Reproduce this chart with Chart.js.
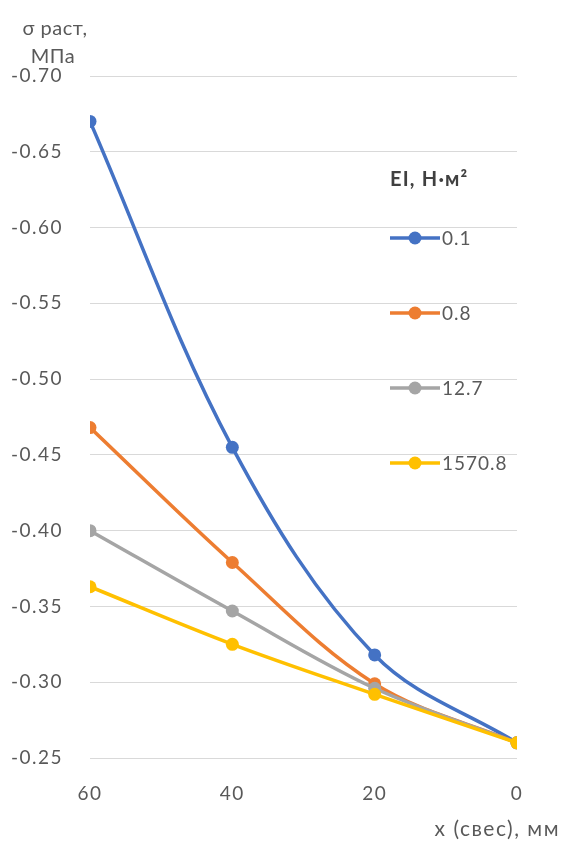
<!DOCTYPE html>
<html>
<head>
<meta charset="utf-8">
<script src="https://cdn.jsdelivr.net/npm/chart.js@4"></script>
<style>
  html, body { margin: 0; padding: 0; background: #fff; }
  #wrap { width: 563px; height: 842px; }
</style>
</head>
<body>
<div id="wrap"><canvas id="stressChart" width="563" height="842"></canvas></div>
<script>
// data
var xValues = [60, 40, 20, 0];
var seriesNames = ['0.1', '0.8', '12.7', '1570.8'];
var stress01 = [-0.670, -0.455, -0.318, -0.260];
var stress08 = [-0.468, -0.379, -0.299, -0.260];
var stress127 = [-0.400, -0.347, -0.296, -0.260];
var stress15708 = [-0.363, -0.325, -0.292, -0.260];
var yTicks = [-0.70, -0.65, -0.60, -0.55, -0.50, -0.45, -0.40, -0.35, -0.30, -0.25];
var xTicks = [60, 40, 20, 0];

var colors = ['#4472C4', '#ED7D31', '#A5A5A5', '#FFC000'];
var fontFamily = 'Lato, "Open Sans", sans-serif';
var textColor = '#595959';

function toPoints(ys) {
    return xValues.map(function(x, i) { return { x: x, y: ys[i] }; });
}

var allSeries = [stress01, stress08, stress127, stress15708];
var datasets = allSeries.map(function(ys, i) {
    return {
        label: seriesNames[i],
        data: toPoints(ys),
        borderColor: colors[i],
        backgroundColor: colors[i],
        borderWidth: 3.5,
        pointRadius: 6.5,
        pointHoverRadius: 6.5,
        pointBorderWidth: 0,
        tension: 0.35,
        fill: false
    };
});
// draw blue on top like the original
datasets.reverse();

// axis titles + legend drawn inside the plot like the Excel original
var extrasPlugin = {
    id: 'extras',
    beforeDraw: function(chart) {
        chart.ctx.letterSpacing = '1.5px';
    },
    afterDraw: function(chart) {
        var ctx = chart.ctx;
        ctx.save();
        ctx.fillStyle = textColor;
        ctx.letterSpacing = '0.5px';
        ctx.font = '20px ' + fontFamily;
        ctx.textAlign = 'center';
        ctx.textBaseline = 'alphabetic';
        ctx.fillText('σ раст,', 55, 35);
        ctx.fillText('МПа', 53, 63);

        ctx.letterSpacing = '1.5px';
        ctx.font = '21px ' + fontFamily;
        ctx.textAlign = 'right';
        ctx.fillText('x (свес), мм', 560, 836);

        // legend
        ctx.textAlign = 'left';
        ctx.textBaseline = 'middle';
        ctx.fillStyle = '#404040';
        ctx.letterSpacing = '1.2px';
        ctx.font = 'bold 20px ' + fontFamily;
        ctx.fillText('EI, Н·м²', 390, 180);

        var x0 = 390, x1 = 440, rowTop = 238, rowGap = 75;
        for (var i = 0; i < seriesNames.length; i++) {
            var y = rowTop + i * rowGap;
            ctx.strokeStyle = colors[i];
            ctx.lineWidth = 3.5;
            ctx.beginPath();
            ctx.moveTo(x0, y);
            ctx.lineTo(x1, y);
            ctx.stroke();
            ctx.fillStyle = colors[i];
            ctx.beginPath();
            ctx.arc((x0 + x1) / 2, y, 6.5, 0, Math.PI * 2);
            ctx.fill();
            ctx.fillStyle = textColor;
            ctx.letterSpacing = '1px';
            ctx.font = '19px ' + fontFamily;
            ctx.fillText(seriesNames[i], 442, y + 1);
        }
        ctx.restore();
    }
};

var ctx = document.getElementById('stressChart').getContext('2d');
var stressChart = new Chart(ctx, {
    type: 'line',
    data: { datasets: datasets },
    options: {
        responsive: false,
        animation: false,
        layout: { padding: { left: 0, right: 46, top: 76, bottom: 0 } },
        plugins: {
            legend: { display: false },
            tooltip: { enabled: false },
            title: { display: false }
        },
        scales: {
            x: {
                type: 'linear',
                reverse: true,
                min: 0,
                max: 60,
                afterBuildTicks: function(scale) {
                    scale.ticks = xTicks.map(function(v) { return { value: v }; });
                },
                afterFit: function(scale) { scale.height = 84; },
                grid: { display: false, drawTicks: false },
                border: { display: false },
                ticks: {
                    padding: 24,
                    color: textColor,
                    font: { family: fontFamily, size: 19 },
                    maxRotation: 0
                }
            },
            y: {
                type: 'linear',
                reverse: true,
                min: -0.70,
                max: -0.25,
                afterBuildTicks: function(scale) {
                    scale.ticks = yTicks.map(function(v) { return { value: v }; });
                },
                afterFit: function(scale) { scale.width = 90; },
                grid: { color: '#D9D9D9', lineWidth: 1, drawTicks: false },
                border: { display: false },
                ticks: {
                    padding: 27,
                    color: textColor,
                    font: { family: fontFamily, size: 19 },
                    callback: function(value) { return value.toFixed(2); }
                }
            }
        }
    },
    plugins: [extrasPlugin]
});
</script>
</body>
</html>
